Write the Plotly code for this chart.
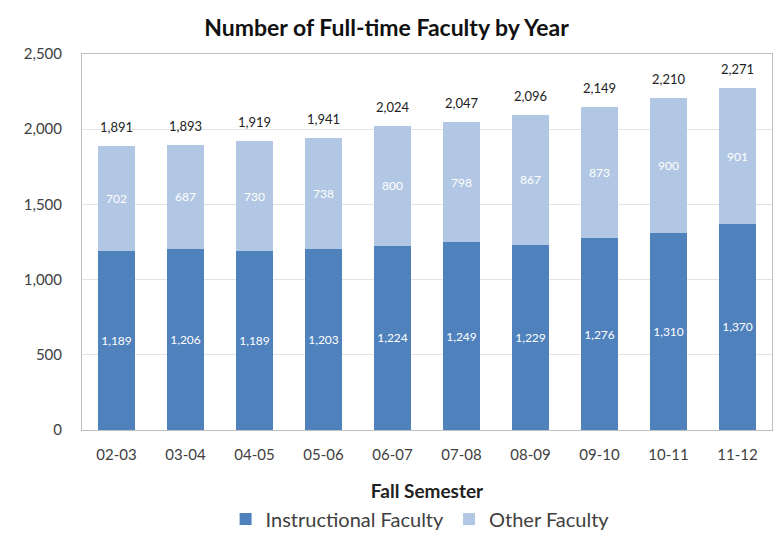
import plotly.graph_objects as go

categories = ["02-03", "03-04", "04-05", "05-06", "06-07", "07-08", "08-09", "09-10", "10-11", "11-12"]
instructional = [1189, 1206, 1189, 1203, 1224, 1249, 1229, 1276, 1310, 1370]
totals = [1891, 1893, 1919, 1941, 2024, 2047, 2096, 2149, 2210, 2271]
other = [t - i for t, i in zip(totals, instructional)]
y_ticks = [0, 500, 1000, 1500, 2000, 2500]
y_tick_labels = ["0", "500", "1,000", "1,500", "2,000", "2,500"]

DARK = "#4F81BD"
LIGHT = "#B2C7E3"
FONT = "Lato"

fig = go.Figure()
fig.add_trace(go.Bar(
    x=categories, y=instructional, name="Instructional Faculty",
    marker=dict(color=DARK, line=dict(width=0)),
    text=instructional, texttemplate="%{text:,}", textposition="inside",
    insidetextanchor="middle", textangle=0,
    textfont=dict(color="white", size=12, family=FONT),
))
fig.add_trace(go.Bar(
    x=categories, y=other, name="Other Faculty",
    marker=dict(color=LIGHT, line=dict(width=0)),
    text=other, texttemplate="%{text:,}", textposition="inside",
    insidetextanchor="middle", textangle=0,
    textfont=dict(color="white", size=12, family=FONT),
))

for c, t in zip(categories, totals):
    fig.add_annotation(x=c, y=t, text=f"{t:,}", showarrow=False,
                       yanchor="bottom", yshift=9,
                       font=dict(color="#222222", size=13, family=FONT))

fig.update_layout(
    width=773, height=535,
    barmode="stack", bargap=0.46,
    plot_bgcolor="white", paper_bgcolor="white",
    margin=dict(l=82, r=1, t=54, b=105, autoexpand=False),
    font=dict(family=FONT, color="#404040", size=15),
    title=dict(text="<b>Number of Full-time Faculty by Year</b>", x=0.5, xanchor="center",
               y=0.948, yanchor="middle", font=dict(size=23, color="#111111", family=FONT)),
    legend=dict(orientation="h", x=0.49, xanchor="center", y=-0.237, yanchor="middle",
                font=dict(size=20, color="#404040", family=FONT), traceorder="normal",
                itemwidth=30),
    showlegend=True,
)
fig.update_xaxes(
    type="category", automargin=False,
    showline=True, linecolor="#BFBFBF", linewidth=1, mirror=True,
    showgrid=False, ticks="", tickfont=dict(size=15, color="#404040"),
    ticklabelstandoff=11,
    title=dict(text="<b>Fall Semester</b>", font=dict(size=19, color="#222222"), standoff=22),
)
fig.update_yaxes(
    range=[0, 2500], tickvals=y_ticks, ticktext=y_tick_labels, automargin=False,
    showline=True, linecolor="#BFBFBF", linewidth=1, mirror=True,
    showgrid=True, gridcolor="#E3E3E3", zeroline=False,
    tickfont=dict(size=15, color="#404040"), ticklabelstandoff=16,
)

fig.write_html("out.html", config={"displayModeBar": False},
               post_script="document.body.style.margin='0';")
